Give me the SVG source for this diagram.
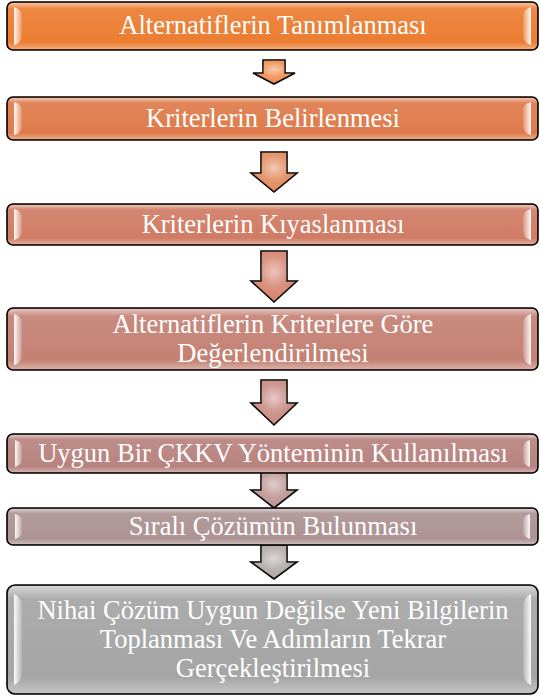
<svg xmlns="http://www.w3.org/2000/svg" width="540" height="696" viewBox="0 0 540 696">
<style>
.box{stroke:#000;stroke-width:1.6}
.gloss{fill:url(#gloss);stroke:none}
.hl{stroke:none}
.lbl{font-family:'Liberation Serif','Times New Roman',serif;font-size:26.5px;fill:#fff;text-anchor:middle}
.arr{stroke:#000;stroke-width:1.6;stroke-linejoin:miter}
.agl{fill:url(#agloss);stroke:none}
</style>
<defs>
<linearGradient id="gloss" x1="0" y1="0" x2="0" y2="1">
<stop offset="0" stop-color="#fff" stop-opacity="0.55"/>
<stop offset="0.12" stop-color="#fff" stop-opacity="0.08"/>
<stop offset="0.85" stop-color="#fff" stop-opacity="0"/>
<stop offset="1" stop-color="#fff" stop-opacity="0.35"/>
</linearGradient>
<linearGradient id="hlL" x1="0" y1="0" x2="1" y2="0">
<stop offset="0" stop-color="#fff" stop-opacity="0.95"/>
<stop offset="1" stop-color="#fff" stop-opacity="0.15"/>
</linearGradient>
<linearGradient id="hlR" x1="1" y1="0" x2="0" y2="0">
<stop offset="0" stop-color="#fff" stop-opacity="0.95"/>
<stop offset="1" stop-color="#fff" stop-opacity="0.15"/>
</linearGradient>
<radialGradient id="agloss" cx="0.5" cy="0.4" r="0.6">
<stop offset="0" stop-color="#fff" stop-opacity="0.55"/>
<stop offset="0.5" stop-color="#fff" stop-opacity="0.15"/>
<stop offset="1" stop-color="#fff" stop-opacity="0"/>
</radialGradient>
</defs>

<g id="connectors">
<g id="a1"><path class="arr" fill="#EE8A48" d="M263 60 H285 V73 H295 L274 84 L253 73 H263 Z"/><path class="agl" d="M263 60 H285 V73 H295 L274 84 L253 73 H263 Z"/></g>
<g id="a2"><path class="arr" fill="#E08658" d="M261 152 H287 V173 H297 L274 192 L251 173 H261 Z"/><path class="agl" d="M261 152 H287 V173 H297 L274 192 L251 173 H261 Z"/></g>
<g id="a3"><path class="arr" fill="#D3806B" d="M261 251 H287 V281 H297 L274 302 L251 281 H261 Z"/><path class="agl" d="M261 251 H287 V281 H297 L274 302 L251 281 H261 Z"/></g>
<g id="a4"><path class="arr" fill="#C5877D" d="M261 380 H287 V403 H297 L274 425 L251 403 H261 Z"/><path class="agl" d="M261 380 H287 V403 H297 L274 425 L251 403 H261 Z"/></g>
<g id="a5"><path class="arr" fill="#BA9190" d="M261 469 H287 V490 H297 L274 508 L251 490 H261 Z"/><path class="agl" d="M261 469 H287 V490 H297 L274 508 L251 490 H261 Z"/></g>
<g id="a6"><path class="arr" fill="#AFA6A6" d="M261 545 H287 V562 H297 L274 579 L251 562 H261 Z"/><path class="agl" d="M261 545 H287 V562 H297 L274 579 L251 562 H261 Z"/></g>
</g>

<g id="n1">
<rect class="box" x="7" y="2" width="531" height="48" rx="6" fill="#EC7D32"/>
<rect class="gloss" x="8" y="3" width="529" height="46" rx="5"/>
<path class="hl" fill="url(#hlL)" d="M14 7 Q22 9 22 17 V35 Q22 43 14 45 Z"/>
<path class="hl" fill="url(#hlR)" d="M531 7 Q523 9 523 17 V35 Q523 43 531 45 Z"/>
<text class="lbl" x="273" y="34">Alternatiflerin Tanımlanması</text>
</g>

<g id="n2">
<rect class="box" x="7" y="97" width="531" height="43" rx="6" fill="#DE7B4B"/>
<rect class="gloss" x="8" y="98" width="529" height="41" rx="5"/>
<path class="hl" fill="url(#hlL)" d="M14 102 Q22 104 22 111 V126 Q22 133 14 135 Z"/>
<path class="hl" fill="url(#hlR)" d="M531 102 Q523 104 523 111 V126 Q523 133 531 135 Z"/>
<text class="lbl" x="273" y="127">Kriterlerin Belirlenmesi</text>
</g>

<g id="n3">
<rect class="box" x="7" y="204" width="531" height="41" rx="6" fill="#D07C64"/>
<rect class="gloss" x="8" y="205" width="529" height="39" rx="5"/>
<path class="hl" fill="url(#hlL)" d="M14 209 Q22 211 22 218 V231 Q22 238 14 240 Z"/>
<path class="hl" fill="url(#hlR)" d="M531 209 Q523 211 523 218 V231 Q523 238 531 240 Z"/>
<text class="lbl" x="273" y="233">Kriterlerin Kıyaslanması</text>
</g>

<g id="n4">
<rect class="box" x="7" y="308" width="531" height="62" rx="6" fill="#C48174"/>
<rect class="gloss" x="8" y="309" width="529" height="60" rx="5"/>
<path class="hl" fill="url(#hlL)" d="M14 314 Q22 316 22 325 V354 Q22 363 14 365 Z"/>
<path class="hl" fill="url(#hlR)" d="M531 314 Q523 316 523 325 V354 Q523 363 531 365 Z"/>
<text class="lbl" x="273" y="333">Alternatiflerin Kriterlere Göre</text>
<text class="lbl" x="273" y="362">Değerlendirilmesi</text>
</g>

<g id="n5">
<rect class="box" x="7" y="434" width="531" height="39" rx="6" fill="#B8837F"/>
<rect class="gloss" x="8" y="435" width="529" height="37" rx="5"/>
<path class="hl" fill="url(#hlL)" d="M15 440 Q22 442 22 448 V459 Q22 465 15 467 Z"/>
<path class="hl" fill="url(#hlR)" d="M530 440 Q523 442 523 448 V459 Q523 465 530 467 Z"/>
<text class="lbl" x="273" y="462">Uygun Bir ÇKKV Yönteminin Kullanılması</text>
</g>

<g id="n6">
<rect class="box" x="7" y="508" width="531" height="37" rx="6" fill="#AD9393"/>
<rect class="gloss" x="8" y="509" width="529" height="35" rx="5"/>
<path class="hl" fill="url(#hlL)" d="M15 514 Q22 516 22 521 V532 Q22 537 15 539 Z"/>
<path class="hl" fill="url(#hlR)" d="M530 514 Q523 516 523 521 V532 Q523 537 530 539 Z"/>
<text class="lbl" x="273" y="535">Sıralı Çözümün Bulunması</text>
</g>

<g id="n7">
<rect class="box" x="7" y="585" width="531" height="109" rx="8" fill="#A5A5A5"/>
<rect class="gloss" x="8" y="586" width="529" height="107" rx="7"/>
<path class="hl" fill="url(#hlL)" d="M14 594 Q22 597 22 608 V671 Q22 682 14 685 Z"/>
<path class="hl" fill="url(#hlR)" d="M531 594 Q523 597 523 608 V671 Q523 682 531 685 Z"/>
<text class="lbl" x="273" y="619">Nihai Çözüm Uygun Değilse Yeni Bilgilerin</text>
<text class="lbl" x="273" y="648">Toplanması Ve Adımların Tekrar</text>
<text class="lbl" x="273" y="677">Gerçekleştirilmesi</text>
</g>
</svg>
